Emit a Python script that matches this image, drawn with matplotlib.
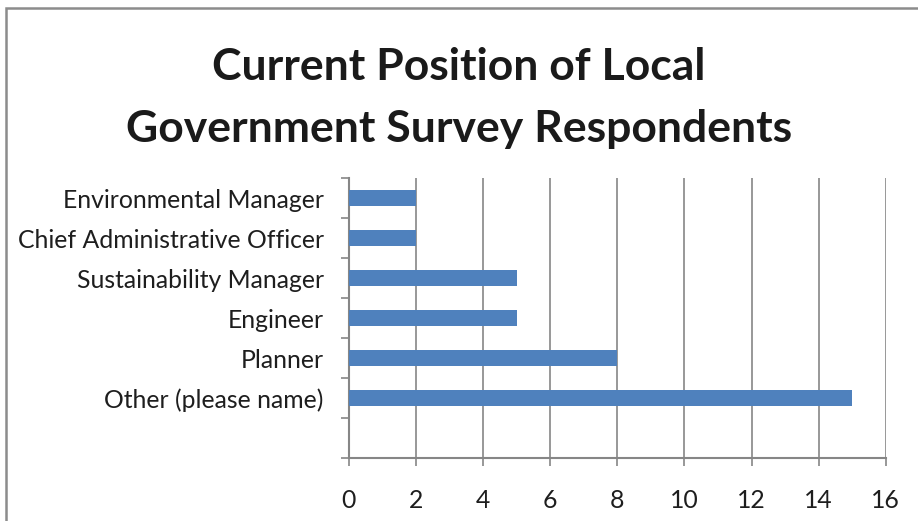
import matplotlib
matplotlib.use("Agg")
import matplotlib.pyplot as plt
from matplotlib.patches import Rectangle

# Survey counts by current position (bottom slot left empty)
positions = ["", "Other (please name)", "Planner", "Engineer",
             "Sustainability Manager", "Chief Administrative Officer",
             "Environmental Manager"]
counts = [None, 15, 8, 5, 5, 2, 2]
x_ticks = [0, 2, 4, 6, 8, 10, 12, 14, 16]

plt.rcParams["font.family"] = ["Lato", "DejaVu Sans"]

fig = plt.figure(figsize=(9.18, 5.21), dpi=100)
ax = fig.add_axes([0.380, 0.121, 0.585, 0.537])

bar_color = "#4F81BD"
grid_color = "#868686"

for i, v in enumerate(counts):
    if v is not None:
        ax.barh(i, v, height=0.4, color=bar_color, zorder=3)

ax.set_xlim(0, 16)
ax.set_ylim(-0.5, len(positions) - 0.5)
ax.set_xticks(x_ticks)
ax.set_xticklabels([str(t) for t in x_ticks], fontsize=17.8, color="#1e1e1e")
ax.set_yticks(range(len(positions)))
ax.set_yticklabels(positions, fontsize=17.8, color="#1e1e1e")
ax.set_yticks([i - 0.5 for i in range(len(positions) + 1)], minor=True)

ax.grid(axis="x", color=grid_color, linewidth=1.2, zorder=0)
ax.tick_params(axis="y", which="major", length=0, pad=18)
ax.tick_params(axis="y", which="minor", length=6, width=1.2, color=grid_color, direction="out")
ax.tick_params(axis="x", length=6, width=1.2, color=grid_color, direction="out", pad=16)

for side in ["top", "right"]:
    ax.spines[side].set_visible(False)
ax.spines["left"].set_color(grid_color)
ax.spines["left"].set_linewidth(1.5)
ax.spines["bottom"].set_color(grid_color)
ax.spines["bottom"].set_linewidth(1.5)

fig.text(0.5, 0.872, "Current Position of Local", ha="center", va="center",
         fontsize=32, fontweight="bold", color="#1a1a1a")
fig.text(0.5, 0.753, "Government Survey Respondents", ha="center", va="center",
         fontsize=32, fontweight="bold", color="#1a1a1a")

# Chart area frame
fig.patches.append(Rectangle((6 / 918, -0.05), 1.2, 1 - 7.5 / 521 + 0.05,
                             transform=fig.transFigure, fill=False,
                             edgecolor="#8c8c8c", linewidth=1.8))

fig.savefig("out.png", dpi=100)
